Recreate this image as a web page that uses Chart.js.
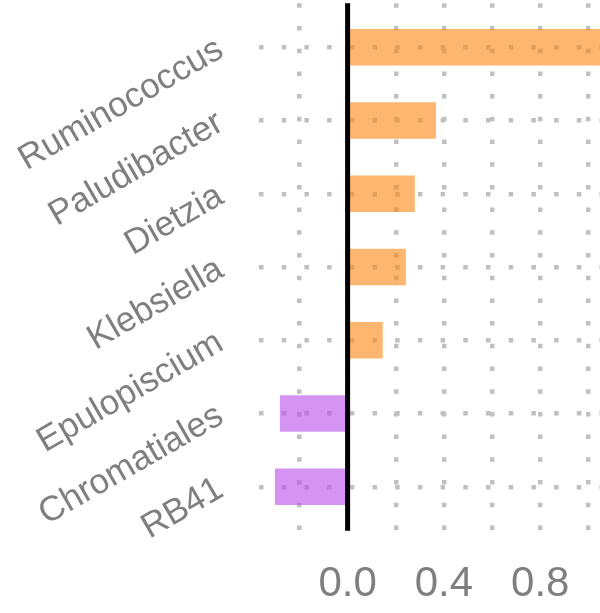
<!DOCTYPE html>
<html>
<head>
<meta charset="utf-8">
<script src="https://cdn.jsdelivr.net/npm/chart.js@4"></script>
<style>
  html, body { margin: 0; padding: 0; background: #fff; }
  #wrap { width: 600px; height: 613px; }
</style>
</head>
<body>
<div id="wrap"><canvas id="chart"></canvas></div>
<script>
// genus names, top to bottom
const genera = ['Ruminococcus', 'Paludibacter', 'Dietzia', 'Klebsiella', 'Epulopiscium', 'Chromatiales', 'RB41'];
// bar values (Ruminococcus runs off the panel)
const scores = [1.2, 0.367, 0.279, 0.242, 0.146, -0.281, -0.302];
// labelled x ticks
const xTickLabels = [0.0, 0.4, 0.8];

const orange = 'rgba(252, 137, 22, 0.62)';
const purple = 'rgba(187, 82, 234, 0.62)';
const textGrey = '#7f7f7f';
const gridGrey = '#c0c0c0';

// black vertical line at zero, drawn over the bars
const zeroLine = {
  id: 'zeroLine',
  afterDatasetsDraw(chart) {
    const { ctx, chartArea, scales } = chart;
    const x0 = scales.x.getPixelForValue(0);
    ctx.save();
    ctx.strokeStyle = '#000';
    ctx.lineWidth = 5;
    ctx.beginPath();
    ctx.moveTo(x0, chartArea.top);
    ctx.lineTo(x0, chartArea.bottom);
    ctx.stroke();
    ctx.restore();
  }
};

const ctx = document.getElementById('chart').getContext('2d');
new Chart(ctx, {
  type: 'bar',
  data: {
    datasets: [{
      data: genera.map((g, i) => ({ x: scores[i], y: i })),
      backgroundColor: c => (c.raw && c.raw.x < 0 ? purple : orange),
      borderWidth: 0,
      barPercentage: 0.5,
      categoryPercentage: 1.0
    }]
  },
  options: {
    indexAxis: 'y',
    responsive: true,
    maintainAspectRatio: false,
    animation: false,
    layout: { padding: { top: 3.3, right: 0, left: 0, bottom: 0 } },
    plugins: { legend: { display: false }, tooltip: { enabled: false } },
    scales: {
      x: {
        type: 'linear',
        min: -0.37,
        max: 1.048,
        border: { display: false, dash: [4.5, 18.2] },
        grid: { color: gridGrey, lineWidth: 4.5, drawTicks: false },
        ticks: {
          stepSize: 0.2,
          includeBounds: false,
          autoSkip: false,
          maxRotation: 0,
          padding: 29,
          color: textGrey,
          font: { family: 'Liberation Sans', size: 42 },
          callback: v => {
            const hit = xTickLabels.find(t => Math.abs(t - v) < 1e-6);
            return hit === undefined ? '' : hit.toFixed(1);
          }
        },
        afterFit: s => { s.height = 82.3; s.paddingLeft = 0; s.paddingRight = 0; }
      },
      y: {
        type: 'linear',
        reverse: true,
        offset: false,
        min: -0.6,
        max: genera.length - 0.4,
        border: { display: false, dash: [4.5, 18.2] },
        grid: { color: gridGrey, lineWidth: 4.5, drawTicks: false, offset: false },
        ticks: {
          stepSize: 1,
          includeBounds: false,
          autoSkip: false,
          minRotation: 30,
          maxRotation: 30,
          padding: 38,
          color: textGrey,
          font: { family: 'Liberation Sans', size: 35 },
          callback: v => (Number.isInteger(v) && genera[v] !== undefined ? genera[v] : '')
        },
        afterFit: s => { s.width = 258.5; s.paddingTop = 0; s.paddingBottom = 0; }
      }
    }
  },
  plugins: [zeroLine]
});
</script>
</body>
</html>
